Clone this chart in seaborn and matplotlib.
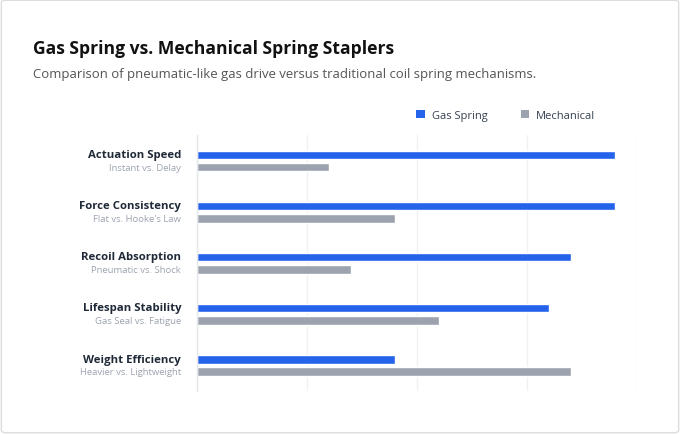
import seaborn as sns
import pandas as pd
import matplotlib.pyplot as plt
from matplotlib.patches import FancyBboxPatch, Patch

# values (0-100 scale)
categories = ["Actuation Speed", "Force Consistency", "Recoil Absorption",
              "Lifespan Stability", "Weight Efficiency"]
sublabels = ["Instant vs. Delay", "Flat vs. Hooke's Law", "Pneumatic vs. Shock",
             "Gas Seal vs. Fatigue", "Heavier vs. Lightweight"]
gas_spring = [95, 95, 85, 80, 45]
mechanical = [30, 45, 35, 55, 85]
series = ["Gas Spring", "Mechanical"]

gas_color = "#2563eb"
mech_color = "#9ca3af"

df = pd.DataFrame({
    "category": categories * 2,
    "score": gas_spring + mechanical,
    "type": [series[0]] * len(categories) + [series[1]] * len(categories),
})

sns.set_style("white")
plt.rcParams["font.family"] = ["Open Sans", "DejaVu Sans"]

fig = plt.figure(figsize=(6.8, 4.35), dpi=100)
fig.patch.set_facecolor("white")
# light card border
fig.patches.append(FancyBboxPatch((0.002, 0.003), 0.996, 0.994,
                                  boxstyle="round,pad=0,rounding_size=0.006",
                                  transform=fig.transFigure, fill=False,
                                  edgecolor="#dddddd", linewidth=1))

ax = fig.add_axes([0.2897, 0.0989, 0.6471, 0.5874])
sns.barplot(data=df, y="category", x="score", hue="type", orient="h",
            palette=[gas_color, mech_color], width=0.48, gap=0.3,
            saturation=1, legend=False, ax=ax)

ax.set_xlim(0, 100)
ax.set_ylim(4.5, -0.5)
ax.set_xticks([0, 25, 50, 75, 100])
ax.set_xticklabels([])
ax.set_yticks([])
ax.set_xlabel("")
ax.set_ylabel("")
ax.tick_params(length=0)
ax.grid(axis="x", color="#f1f1f3", linewidth=1)
ax.set_axisbelow(True)
for s in ["top", "right", "bottom"]:
    ax.spines[s].set_visible(False)
ax.spines["left"].set_color("#e5e7eb")
ax.spines["left"].set_linewidth(1)

for i, (name, sub) in enumerate(zip(categories, sublabels)):
    ax.text(-0.036, i - 0.125, name, transform=ax.get_yaxis_transform(),
            ha="right", va="center", fontsize=8.2, fontweight="bold",
            color="#1f2937")
    ax.text(-0.036, i + 0.12, sub, transform=ax.get_yaxis_transform(),
            ha="right", va="center", fontsize=6.8, color="#9ca3af")

fig.text(0.049, 0.888, "Gas Spring vs. Mechanical Spring Staplers",
         fontsize=12.6, fontweight="bold", color="#111111", va="center")
fig.text(0.049, 0.829,
         "Comparison of pneumatic-like gas drive versus traditional coil spring mechanisms.",
         fontsize=9.45, color="#555555", va="center")

handles = [Patch(facecolor=gas_color, edgecolor="none"),
           Patch(facecolor=mech_color, edgecolor="none")]
fig.legend(handles, series, loc="center left", bbox_to_anchor=(0.597, 0.733),
           ncol=2, frameon=False, fontsize=8, handlelength=0.8,
           handleheight=0.8, handletextpad=0.6, columnspacing=3.0,
           labelcolor="#374151")

fig.savefig("out.png", dpi=100, facecolor="white")
